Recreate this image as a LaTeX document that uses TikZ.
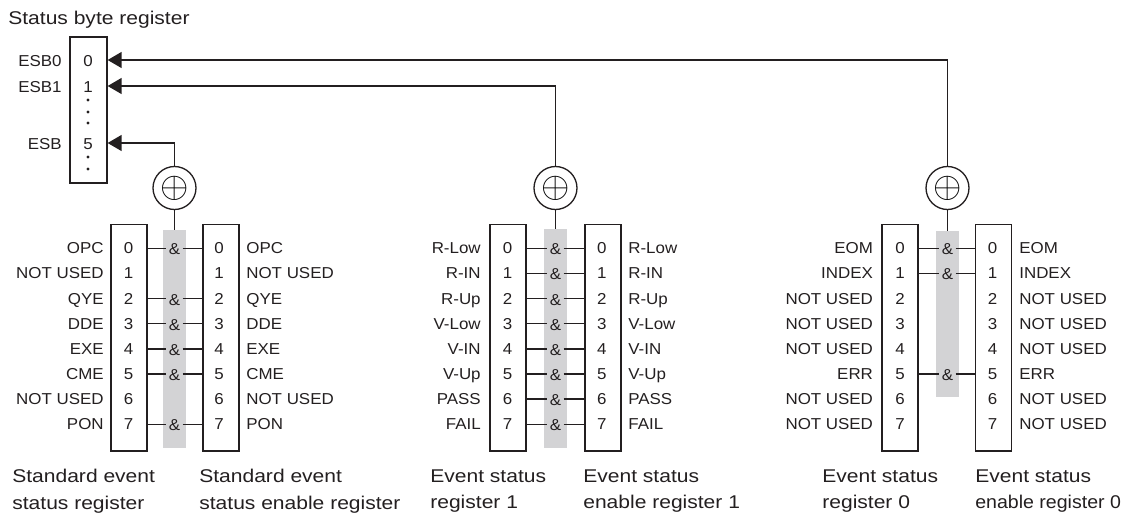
\documentclass[tikz,border=0pt]{standalone}
\usepackage{fontspec}
\setmainfont{Liberation Sans}[FakeStretch=1.14]
\newfontfamily\narrowfont{Liberation Sans}[FakeStretch=1.06]
\newfontfamily\lblfont{Liberation Sans}[FakeStretch=1.07]
\usepackage{tikz}
\usetikzlibrary{arrows.meta, positioning, calc}
\definecolor{inkblk}{RGB}{35,31,32}
\definecolor{gatefill}{RGB}{211,211,213}
\tikzset{
  regbox/.style={rectangle, draw=inkblk, minimum width=0.72cm,
    minimum height=4.53cm, inner sep=0pt, line width=0.75pt},
  sbbox/.style={rectangle, draw=inkblk, minimum width=0.74cm,
    minimum height=2.92cm, inner sep=0pt, line width=0.75pt},
  gatecol/.style={rectangle, fill=gatefill, minimum width=0.46cm, inner sep=0pt},
  digit/.style={inner sep=0pt, text height=0.72em, text depth=0pt,
    font=\lblfont\fontsize{9}{10}\selectfont, text=inkblk},
  lbl/.style={inner sep=0pt, text height=0.72em, text depth=0pt,
    font=\lblfont\fontsize{9}{10}\selectfont, text=inkblk},
  amp/.style={inner sep=1.2pt, text height=0.72em, text depth=0pt,
    font=\lblfont\fontsize{9}{10}\selectfont, text=inkblk},
  orgate/.style={circle, draw=inkblk, minimum size=0.86cm, inner sep=0pt,
    line width=0.75pt, font=\fontsize{21}{21}\selectfont},
  caption/.style={inner sep=0pt, align=left,
    font=\fontsize{10.5}{15}\selectfont, text=inkblk},
  arrow/.style={-{Triangle[length=0.28cm, width=0.32cm]}, line width=0.75pt, color=inkblk},
  line/.style={line width=0.75pt, color=inkblk}
}

\begin{document}
\begin{tikzpicture}[x=0.02cm, y=-0.02cm]
  \useasboundingbox (0,0) rectangle (1126,514);
  % Status byte register
  \node[caption, anchor=west] (sbrcap) at (8,20) {Status byte register};
  \node[sbbox] (sbr) at (88.5,110) {};
  \node[digit] (sbr0) at (88,60) {0};
  \node[digit] (sbr1) at (88,86) {1};
  \node[digit] (sbr5) at (88,143) {5};
  \node[lbl, anchor=east] (sbrl0) at (62,60) {ESB0};
  \node[lbl, anchor=east] (sbrl1) at (62,86) {ESB1};
  \node[lbl, anchor=east] (sbrl5) at (62,143) {ESB};
  \foreach \y in {100,112,123,157,169}
    \fill[inkblk] (88,\y) circle (0.9pt);

  % Standard event status register / enable register
  \node[gatecol, minimum height=4.36cm] (sgate) at (174.5,339) {};
  \node[regbox] (sesr) at (129,337.75) {};
  \node[regbox] (sese) at (221,337.75) {};
  \foreach \t [count=\i from 0] in {OPC,NOT USED,QYE,DDE,EXE,CME,NOT USED,PON} {
    \node[digit] (sesr\i) at (128.5,{247.5+25.1*\i}) {\i};
    \node[digit] (sese\i) at (219,{247.5+25.1*\i}) {\i};
    \node[lbl, anchor=east] (sesrl\i) at (104,{247.5+25.1*\i}) {\t};
    \node[lbl, anchor=west] (sesel\i) at (246,{247.5+25.1*\i}) {\t};
  }
  \foreach \i in {0,2,3,4,5,7} {
    \node[amp] (sand\i) at (174.5,{248.5+25.1*\i}) {\&};
    \draw[line] (sesr.east |- sand\i) -- (sand\i) -- (sese.west |- sand\i);
  }
  \node[orgate] (xorS) at (174.5,188) {$\oplus$};
  \draw[line] (sgate.north) -- (xorS);
  \draw[arrow] (xorS) |- (sbr.east |- sbr5);
  \node[caption, anchor=north west] (sesrcap) at (12,469) {Standard event\\status register};
  \node[caption, anchor=north west] (sesecap) at (199,469) {Standard event\\status enable register};

  % Event status register 1 / enable register 1
  \node[gatecol, minimum height=4.38cm] (gate1) at (555.5,338.5) {};
  \node[regbox] (esr1) at (508,337.75) {};
  \node[regbox] (ese1) at (603,337.75) {};
  \foreach \t [count=\i from 0] in {R-Low,R-IN,R-Up,V-Low,V-IN,V-Up,PASS,FAIL} {
    \node[digit] (esrA\i) at (507.5,{247.5+25.1*\i}) {\i};
    \node[digit] (eseA\i) at (601.7,{247.5+25.1*\i}) {\i};
    \node[lbl, anchor=east] (esrAl\i) at (481,{247.5+25.1*\i}) {\t};
    \node[lbl, anchor=west] (eseAl\i) at (628,{247.5+25.1*\i}) {\t};
    \node[amp] (andA\i) at (555.5,{248.5+25.1*\i}) {\&};
    \draw[line] (esr1.east |- andA\i) -- (andA\i) -- (ese1.west |- andA\i);
  }
  \node[orgate] (xor1) at (555.5,188) {$\oplus$};
  \draw[line] (gate1.north) -- (xor1);
  \draw[arrow] (xor1) |- (sbr.east |- sbr1);
  \node[caption, anchor=north west] (esr1cap) at (430,469) {Event status\\register 1};
  \node[caption, anchor=north west] (ese1cap) at (583,469) {Event status\\enable register 1};

  % Event status register 0 / enable register 0
  \node[gatecol, minimum height=3.32cm] (gate0) at (947.5,314) {};
  \node[regbox] (esr0) at (900,337.75) {};
  \node[regbox] (ese0) at (993.5,337.75) {};
  \foreach \t [count=\i from 0] in {EOM,INDEX,NOT USED,NOT USED,NOT USED,ERR,NOT USED,NOT USED} {
    \node[digit] (esrB\i) at (900,{247.5+25.1*\i}) {\i};
    \node[digit] (eseB\i) at (992.5,{247.5+25.1*\i}) {\i};
    \node[lbl, anchor=east] (esrBl\i) at (873.3,{247.5+25.1*\i}) {\t};
    \node[lbl, anchor=west] (eseBl\i) at (1019,{247.5+25.1*\i}) {\t};
  }
  \foreach \i in {0,1,5} {
    \node[amp] (andB\i) at (947.5,{248.5+25.1*\i}) {\&};
    \draw[line] (esr0.east |- andB\i) -- (andB\i) -- (ese0.west |- andB\i);
  }
  \node[orgate] (xor0) at (947.5,188) {$\oplus$};
  \draw[line] (gate0.north) -- (xor0);
  \draw[arrow] (xor0) |- (sbr.east |- sbr0);
  \node[caption, anchor=north west] (esr0cap) at (822,469) {Event status\\register 0};
  \node[caption, anchor=north west] (ese0cap) at (975,469) {Event status\\{\narrowfont enable register 0}};
\end{tikzpicture}
\end{document}
